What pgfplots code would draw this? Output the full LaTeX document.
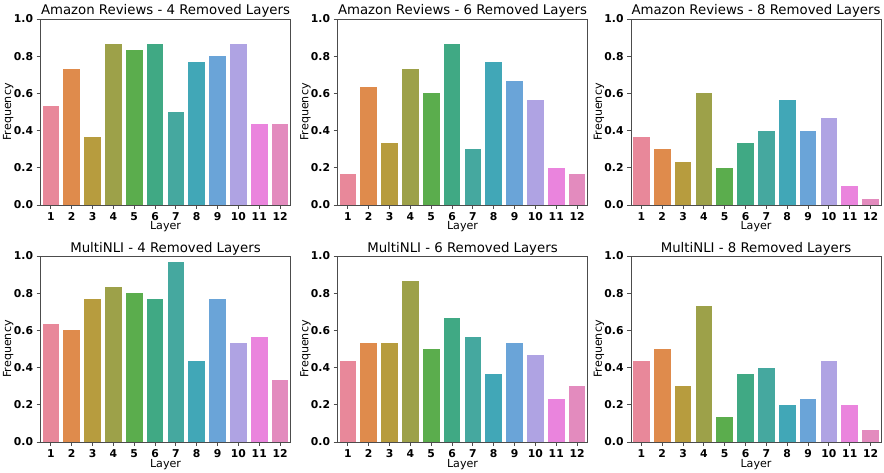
\documentclass[border=0pt]{standalone}
\usepackage{pgfplots}
\pgfplotsset{compat=1.18}
\usepackage{pgfplotstable}
\usepackage{fontspec}
\setmainfont{DejaVu Sans}

\definecolor{hc1}{HTML}{E8889A}
\definecolor{hc2}{HTML}{DF8B4C}
\definecolor{hc3}{HTML}{B79C3E}
\definecolor{hc4}{HTML}{9DA149}
\definecolor{hc5}{HTML}{5BAD4D}
\definecolor{hc6}{HTML}{40A984}
\definecolor{hc7}{HTML}{45A89F}
\definecolor{hc8}{HTML}{41A7B7}
\definecolor{hc9}{HTML}{6AA4D8}
\definecolor{hc10}{HTML}{AFA3E3}
\definecolor{hc11}{HTML}{EA84DD}
\definecolor{hc12}{HTML}{E38BBE}

\pgfplotstableread{
layer freq
1 0.533
2 0.733
3 0.367
4 0.867
5 0.833
6 0.867
7 0.500
8 0.767
9 0.800
10 0.867
11 0.433
12 0.433
}\amaA
\pgfplotstableread{
layer freq
1 0.167
2 0.633
3 0.333
4 0.733
5 0.600
6 0.867
7 0.300
8 0.767
9 0.667
10 0.567
11 0.200
12 0.167
}\amaB
\pgfplotstableread{
layer freq
1 0.367
2 0.300
3 0.233
4 0.600
5 0.200
6 0.333
7 0.400
8 0.567
9 0.400
10 0.467
11 0.100
12 0.033
}\amaC
\pgfplotstableread{
layer freq
1 0.633
2 0.600
3 0.767
4 0.833
5 0.800
6 0.767
7 0.967
8 0.433
9 0.767
10 0.533
11 0.567
12 0.333
}\mnlA
\pgfplotstableread{
layer freq
1 0.433
2 0.533
3 0.533
4 0.867
5 0.500
6 0.667
7 0.567
8 0.367
9 0.533
10 0.467
11 0.233
12 0.300
}\mnlB
\pgfplotstableread{
layer freq
1 0.433
2 0.500
3 0.300
4 0.733
5 0.133
6 0.367
7 0.400
8 0.200
9 0.233
10 0.433
11 0.200
12 0.067
}\mnlC

\pgfplotsset{
  panel/.style={
    scale only axis, width=250pt, height=186pt, anchor=south west,
    xmin=0.5, xmax=12.5, ymin=0, ymax=1,
    xtick={1,...,12}, ytick={0,0.2,0.4,0.6,0.8,1},
    /pgf/number format/assume math mode=true,
    yticklabel style={/pgf/number format/fixed, /pgf/number format/fixed zerofill, /pgf/number format/precision=1},
    tick align=outside, major tick length=3.9pt,
    tick style={black!70, line width=0.9pt},
    axis line style={black!70, line width=0.9pt},
    ticklabel style={font=\fontsize{10.8}{12}\selectfont\bfseries},
    xtick pos=bottom, ytick pos=left,
    title style={at={(axis description cs:0.5,1.0215)}, anchor=base, yshift=-6pt, font=\fontsize{13.3}{15}\selectfont},
    xlabel style={at={(axis description cs:0.5,-0.1344)}, anchor=base, font=\fontsize{11.1}{13}\selectfont},
    ylabel style={at={(axis description cs:-0.117,0.5)}, anchor=base, font=\fontsize{11.1}{13}\selectfont},
    xlabel={Layer}, ylabel={Frequency},
  }
}

\newcommand\bars[1]{%
  \pgfplotsinvokeforeach{1,...,12}{%
    \addplot[ybar, bar width=0.8, bar shift=0pt, fill=hc##1, draw=none,
      restrict x to domain=##1:##1] table[x=layer,y=freq]{#1};
  }%
}

\begin{document}
\begin{tikzpicture}
\useasboundingbox (0,0) rectangle (884pt,472pt);
\begin{axis}[panel, at={(40.5pt,267pt)}, title={Amazon Reviews - 4 Removed Layers}]
\bars{\amaA}
\end{axis}
\begin{axis}[panel, at={(337.5pt,267pt)}, title={Amazon Reviews - 6 Removed Layers}]
\bars{\amaB}
\end{axis}
\begin{axis}[panel, at={(631pt,267pt)}, title={Amazon Reviews - 8 Removed Layers}]
\bars{\amaC}
\end{axis}
\begin{axis}[panel, at={(40.5pt,30pt)}, title={MultiNLI - 4 Removed Layers}]
\bars{\mnlA}
\end{axis}
\begin{axis}[panel, at={(337.5pt,30pt)}, title={MultiNLI - 6 Removed Layers}]
\bars{\mnlB}
\end{axis}
\begin{axis}[panel, at={(631pt,30pt)}, title={MultiNLI - 8 Removed Layers}]
\bars{\mnlC}
\end{axis}
\end{tikzpicture}
\end{document}
